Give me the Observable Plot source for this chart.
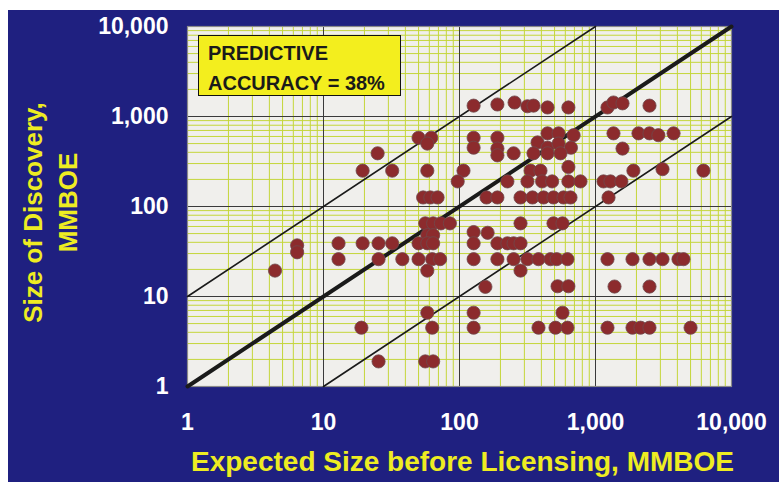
<!DOCTYPE html>
<html>
<head>
<meta charset="utf-8">
<script src="https://cdn.jsdelivr.net/npm/d3@7"></script>
<script src="https://cdn.jsdelivr.net/npm/@observablehq/plot@0.6"></script>
<style>
  html, body { margin: 0; padding: 0; background: #ffffff; }
  #wrap { position: absolute; left: 8px; top: 10px; width: 771px; height: 472px; background: #1f2080; }
  #box {
    position: absolute; left: 198px; top: 35px; width: 192px; height: 57px;
    background: #f3ee1e; border: 1.5px solid #111;
    font-family: "Liberation Sans", Arial, sans-serif; font-weight: bold; font-size: 20px;
    color: #1a1a1a; line-height: 30px; padding: 2px 0 0 9px; box-sizing: content-box;
  }
</style>
</head>
<body>
<div id="wrap"></div>
<div id="box">PREDICTIVE<br>ACCURACY = 38%</div>
<script>
// Expected size before licensing (MMBOE) and size of discovery (MMBOE)
const expected = [
  127, 190, 254, 316, 350, 444, 632, 1225, 1356, 1580, 2495,
  50, 62, 58, 127, 127, 190, 190, 190, 250, 375, 444, 535, 690, 444, 535, 660, 350, 444, 553, 25, 1356, 2070, 2495, 2900, 3750, 1580,
  19.4, 32, 58, 107, 333, 394, 632, 1900, 3110, 6220,
  97, 225, 316, 405, 480, 632, 776, 1145, 1288, 1550,
  54, 61, 69, 158, 190, 281, 344, 415, 491, 582, 655, 1247,
  56, 64, 73, 85, 281, 491, 572,
  127, 161, 58, 64,
  6.4, 6.4, 12.9, 19.4, 25.4, 32, 50, 58, 64, 127, 190, 225, 250, 281,
  12.9, 25.4, 38, 50, 63, 72, 127, 190, 250, 316, 381, 467, 518, 622, 1225, 1871, 2495, 3110, 4076, 4436,
  4.4, 58, 281,
  155, 526, 632, 1380, 2495,
  58, 127, 572,
  19, 63, 127, 381, 508, 622, 1225, 1871, 2142, 2495, 5000,
  25.4, 56, 64
];
const discovered = [
  1320, 1360, 1430, 1300, 1320, 1260, 1260, 1260, 1430, 1400, 1320,
  580, 580, 500, 580, 450, 580, 440, 370, 390, 515, 650, 650, 620, 450, 500, 450, 390, 390, 390, 390, 650, 650, 650, 620, 650, 440,
  250, 250, 250, 250, 250, 250, 275, 250, 260, 250,
  190, 190, 190, 190, 190, 190, 190, 190, 190, 190,
  126, 126, 126, 126, 126, 126, 126, 126, 126, 126, 126, 126,
  65, 65, 65, 65, 65, 65, 65,
  52, 51, 48, 48,
  37, 31, 39, 39, 39, 39, 39, 39, 39, 39, 39, 39, 39, 39,
  26, 26, 26, 26, 26, 26, 26, 26, 26, 26, 26, 26, 26, 26, 26, 26, 26, 26, 26, 26,
  19.4, 19.4, 19.4,
  12.8, 13, 13, 12.9, 12.9,
  6.6, 6.6, 6.6,
  4.5, 4.5, 4.5, 4.5, 4.5, 4.5, 4.5, 4.5, 4.5, 4.5, 4.5,
  1.9, 1.9, 1.9
];

const tickValues = [1, 10, 100, 1000, 10000];
const tickLabels = ["1", "10", "100", "1,000", "10,000"];
const decadeLines = [10, 100, 1000];
const minorLines = [2, 3, 4, 5, 6, 7, 8, 9,
  20, 30, 40, 50, 60, 70, 80, 90,
  200, 300, 400, 500, 600, 700, 800, 900,
  2000, 3000, 4000, 5000, 6000, 7000, 8000, 9000];

// reference lines: actual = expected, 10x and 1/10x
const lineEqual = [[1, 1], [10000, 10000]];
const lineTimesTen = [[1, 10], [1000, 10000]];
const lineTenth = [[10, 1], [10000, 1000]];

const xTitle = "Expected Size before Licensing, MMBOE";
const yTitle1 = "Size of Discovery,";
const yTitle2 = "MMBOE";

const points = expected.map((e, i) => ({expected: e, discovered: discovered[i]}));

const FONT = "'Liberation Sans', Arial, sans-serif";
const YELLOW = "#eeec22";

const chart = Plot.plot({
  width: 771,
  height: 472,
  marginLeft: 179,
  marginRight: 48,
  marginTop: 16,
  marginBottom: 96,
  style: {background: "#1f2080", fontFamily: FONT, overflow: "visible"},
  x: {type: "log", domain: [1, 10000], axis: null},
  y: {type: "log", domain: [1, 10000], axis: null},
  marks: [
    Plot.frame({fill: "#f0efec", stroke: null}),
    Plot.ruleX(minorLines, {stroke: "#c4d63a", strokeWidth: 1}),
    Plot.ruleY(minorLines, {stroke: "#c4d63a", strokeWidth: 1}),
    Plot.ruleX(decadeLines, {stroke: "#3a3a3a", strokeWidth: 1}),
    Plot.ruleY(decadeLines, {stroke: "#3a3a3a", strokeWidth: 1}),
    Plot.frame({stroke: "#8a8a8a", strokeWidth: 1.2}),
    Plot.line(lineTimesTen, {x: d => d[0], y: d => d[1], stroke: "#1a1a1a", strokeWidth: 1.6}),
    Plot.line(lineTenth, {x: d => d[0], y: d => d[1], stroke: "#1a1a1a", strokeWidth: 1.6}),
    Plot.line(lineEqual, {x: d => d[0], y: d => d[1], stroke: "#1a1a1a", strokeWidth: 4}),
    Plot.dot(points, {x: "expected", y: "discovered", r: 6.6, fill: "#8c2b2d", stroke: "#6e4a4c", strokeWidth: 0.8}),
    Plot.text(tickValues, {x: d => d, frameAnchor: "bottom", lineAnchor: "middle", dy: 36, text: (d, i) => tickLabels[i],
      fill: "white", fontSize: 23, fontWeight: "bold"}),
    Plot.text(tickValues, {y: d => d, frameAnchor: "left", dx: -19, textAnchor: "end", lineAnchor: "middle", text: (d, i) => tickLabels[i],
      fill: "white", fontSize: 23, fontWeight: "bold"}),
    Plot.text([xTitle], {frameAnchor: "bottom", lineAnchor: "middle", dx: 3, dy: 76, fill: YELLOW, fontSize: 28, fontWeight: "bold"}),
    Plot.text([yTitle1], {frameAnchor: "left", textAnchor: "middle", lineAnchor: "middle", dx: -154, dy: 6, rotate: -90, fill: YELLOW, fontSize: 26, fontWeight: "bold"}),
    Plot.text([yTitle2], {frameAnchor: "left", textAnchor: "middle", lineAnchor: "middle", dx: -119, dy: -4, rotate: -90, fill: YELLOW, fontSize: 26, fontWeight: "bold"})
  ]
});
document.getElementById("wrap").appendChild(chart);
</script>
</body>
</html>
